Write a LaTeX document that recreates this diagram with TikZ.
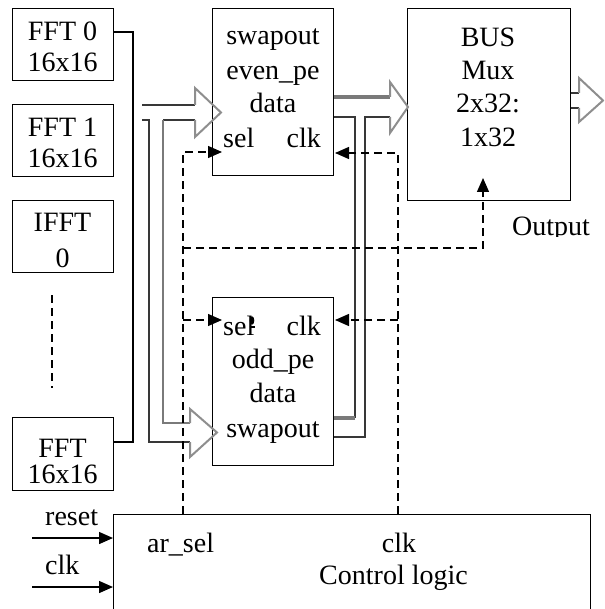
\documentclass[tikz,border=0pt]{standalone}
\usepackage{fontspec}
\setmainfont{Liberation Serif}
\usetikzlibrary{arrows.meta}
\definecolor{busdark}{HTML}{383838}
\definecolor{busgray}{HTML}{7A7A7A}
\definecolor{headgray}{HTML}{8E8E8E}
\begin{document}
\begin{tikzpicture}[x=1pt,y=-1pt,
  box/.style={draw, line width=1.4pt, inner sep=0pt, anchor=north west},
  lbl/.style={inner sep=0pt, anchor=base, font=\fontsize{28}{34}\selectfont},
  lbll/.style={lbl, anchor=base west},
  lblr/.style={lbl, anchor=base east},
  ctl/.style={line width=1.3pt, dash pattern=on 8pt off 5pt, -{Triangle[length=14pt,width=12pt]}},
  sig/.style={line width=1.4pt, -{Triangle[length=14pt,width=12pt]}},
  wire/.style={line width=1.4pt},
  dk/.style={draw=busdark, line width=2pt},
  gr/.style={draw=busgray, line width=2pt},
  grthick/.style={draw=busgray, line width=3.5pt},
  hd/.style={draw=headgray, line width=2pt, line join=miter}]
\useasboundingbox (0,0) rectangle (604,609);
\clip (0,0) rectangle (604,609);

% processing blocks on the left
\node[box, minimum width=101pt, minimum height=72pt] (fft0) at (12,8) {};
\node[box, minimum width=101pt, minimum height=72pt] (fft1) at (12,104) {};
\node[box, minimum width=101pt, minimum height=72pt] (ifft0) at (12,200) {};
\node[box, minimum width=101pt, minimum height=73pt] (fftn) at (12,417) {};
\node[lbl] (t0a) at (62.5,41) {FFT 0};
\node[lbl] (t0b) at (62.5,72) {16x16};
\node[lbl] (t1a) at (62.5,137) {FFT 1};
\node[lbl] (t1b) at (62.5,168) {16x16};
\node[lbl] (t2a) at (62.5,232) {IFFT};
\node[lbl] (t2b) at (62.5,267) {0};
\node[lbl] (t3a) at (62.5,457) {FFT};
\node[lbl] (t3b) at (62.5,483) {16x16};
\draw[line width=1.3pt, dash pattern=on 8pt off 5pt] (52,295) -- (52,388);

% swapout blocks
\node[box, minimum width=121pt, minimum height=167pt] (even) at (212,8) {};
\node[lbl] (e1) at (273,45) {swapout};
\node[lbl] (e2) at (273,80) {even\_pe};
\node[lbl] (e3) at (273,113) {data};
\node[lbll] (e4) at (223,148) {sel};
\node[lblr] (e5) at (321,148) {clk};

\node[box, minimum width=121pt, minimum height=168pt] (odd) at (212,297) {};
\node[lbll] (o1) at (223,335) {sel};
% ink blot over the letter l
\fill (252,320.5) ellipse[x radius=2.3pt, y radius=4.2pt];
\draw[line width=1.2pt] (249.5,327) -- (254.5,327);
\node[lblr] (o2) at (321,335) {clk};
\node[lbl] (o3) at (273,368) {odd\_pe};
\node[lbl] (o4) at (273,402) {data};
\node[lbl] (o5) at (273,437) {swapout};

% bus multiplexer
\node[box, minimum width=163pt, minimum height=192pt] (mux) at (407,8) {};
\node[lbl] (m1) at (488,47) {BUS};
\node[lbl] (m2) at (488,80) {Mux};
\node[lbl] (m3) at (488,113) {2x32:};
\node[lbl] (m4) at (488,147) {1x32};
\begin{scope}
  \clip (500,200) rectangle (604,237);
  \node[lbll] (outl) at (512,236) {Output};
\end{scope}

% control logic
\node[box, minimum width=477pt, minimum height=150pt] (ctrl) at (113,514) {};
\node[lbll] (c1) at (147,552) {ar\_sel};
\node[lbl] (c2) at (399,552) {clk};
\node[lbl] (c3) at (393.5,584) {Control logic};
\node[lbll] (rl) at (45,525) {reset};
\node[lbll] (cl) at (45,574) {clk};
\coordinate (rin) at (32,538);
\coordinate (cin) at (32,587);
\draw[sig] (rin) -- (ctrl.west |- rin);
\draw[sig] (cin) -- (ctrl.west |- cin);

% FFT output bus line
\draw[wire] (fft0.east |- 0,32) -- (133,32) |- (fftn.east |- 0,442);

% hollow data bus into the swapout blocks
\draw[dk] (142,105) -- (195,105);
\draw[dk] (142,120) -- (149,120) -- (149,442) -- (190,442);
\draw[dk] (195,120) -- (163,120);
\draw[gr] (163,120) -- (163,423) -- (190,423);
\draw[hd] (195,105) -- (195,88) -- (221,112.5) -- (195,137) -- (195,120);
\draw[hd] (190,423) -- (190,409) -- (217,432.5) -- (190,457) -- (190,442);

% hollow data bus from the swapout blocks into the multiplexer
\draw[grthick] (even.east |- 0,97) -- (390,97);
\draw[dk] (even.east |- 0,117) -- (355,117) -- (355,418);
\draw[grthick] (355,418) -- (odd.east |- 0,418);
\draw[dk] (390,117) -- (365,117) -- (365,437) -- (odd.east |- 0,437);
\draw[hd] (390,97) -- (390,82) -- (408,107) -- (390,133) -- (390,117);

% multiplexer output
\draw[dk] (mux.east |- 0,93) -- (579,93);
\draw[dk] (mux.east |- 0,108) -- (579,108);
\draw[hd] (579,93) -- (579,78) -- (603,100.5) -- (579,122) -- (579,108);

% control signals
\coordinate (selsrc) at (ctrl.north -| 183,0);
\coordinate (clksrc) at (ctrl.north -| 398,0);
\coordinate (seleven) at (222,152);
\coordinate (selodd) at (222,320);
\coordinate (clkeven) at (335,153);
\coordinate (clkodd) at (335,320);
\coordinate (muxsel) at (483,178);
\draw[ctl] (selsrc) |- (seleven);
\draw[ctl] (selsrc |- selodd) -- (selodd);
\draw[ctl] (clksrc) |- (clkeven);
\draw[ctl] (clksrc |- clkodd) -- (clkodd);
\draw[ctl] (selsrc |- 0,248) -| (muxsel);
\end{tikzpicture}
\end{document}
